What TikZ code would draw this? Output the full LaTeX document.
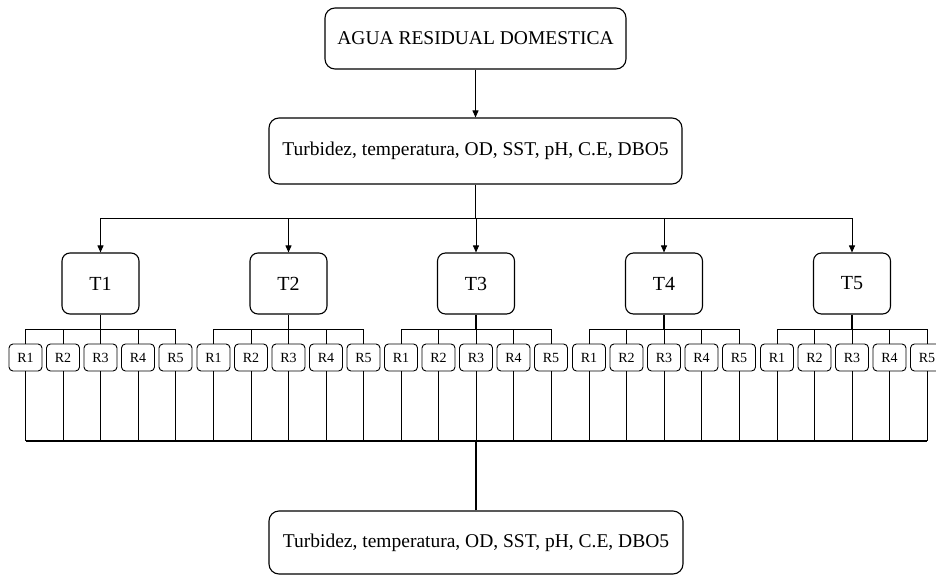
\documentclass[tikz,border=0pt]{standalone}
\usepackage{fontspec}
\setmainfont{Liberation Serif}
\usetikzlibrary{arrows.meta}
\begin{document}
\begin{tikzpicture}[x=1pt,y=-1pt,
  bigbox/.style={draw,line width=1.1pt,rounded corners=10pt,minimum height=63pt,inner sep=0pt,font=\fontsize{19.5}{22}\selectfont},
  tbox/.style={draw,line width=1.1pt,rounded corners=8pt,minimum width=77pt,minimum height=61pt,inner sep=0pt,font=\fontsize{20}{24}\selectfont},
  rbox/.style={draw,line width=0.9pt,rounded corners=4pt,minimum width=33pt,minimum height=27pt,inner sep=0pt,font=\fontsize{14}{16}\selectfont},
  arr/.style={line width=0.9pt,-{Triangle[length=7pt,width=6pt]}},
  trunk/.style={line width=1.6pt},
  conn/.style={line width=0.8pt}]
\useasboundingbox (0,0) rectangle (936,575);
\node[bigbox,minimum width=301pt,minimum height=61pt] (top) at (475.5,38.5) {AGUA RESIDUAL DOMESTICA};
\node[bigbox,minimum width=413pt,minimum height=66pt] (mid) at (475.5,151) {Turbidez, temperatura, OD, SST, pH, C.E, DBO5};
\node[bigbox,minimum width=414pt,minimum height=63pt] (bot) at (476,542.5) {Turbidez, temperatura, OD, SST, pH, C.E, DBO5};
\draw[arr] (top) -- (mid);
\draw[trunk] (mid.south) -- (mid.south |- 0,218);
\foreach \i/\cx in {1/100.5,2/288.5,3/476,4/664,5/852}{
  \node[tbox] (T\i) at (\cx,283.5) {T\i};
  \draw[arr] (mid.south |- 0,218) -| (T\i.north);
  \foreach \j in {1,...,5}{
    \node[rbox] (R\i\j) at ({\cx+(\j-3)*37.5},357.5) {R\j};
  }
  \draw[trunk] (T\i.south) -- (T\i.south |- 0,329);
  \draw[conn] (R\i1.north) -- (R\i1.north |- 0,329) -- (R\i5.north |- 0,329) -- (R\i5.north);
  \foreach \j in {2,3,4}{
    \draw[conn] (R\i\j.north) -- (R\i\j.north |- 0,329);
  }
  \foreach \j in {1,...,5}{
    \draw[conn] (R\i\j.south) -- (R\i\j.south |- 0,441);
  }
}
\draw[line width=1.1pt] (R11.south |- 0,441) -- (R55.south |- 0,441);
\draw[trunk] (bot.north) -- (bot.north |- 0,441);
\end{tikzpicture}
\end{document}
